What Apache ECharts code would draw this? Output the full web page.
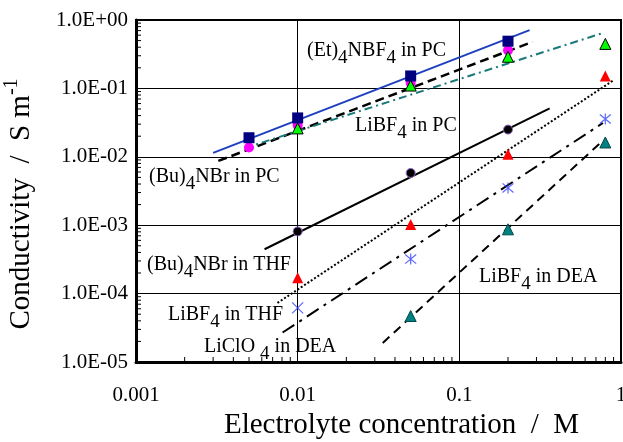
<!DOCTYPE html>
<html><head><meta charset="utf-8">
<script src="https://cdn.jsdelivr.net/npm/echarts@6/dist/echarts.min.js"></script>
<style>html,body{margin:0;padding:0;background:#fff}#c{width:623px;height:442px}</style>
</head><body><div id="c"></div>
<script>
// ---- tick labels ----
const xTickLabels = ['0.001', '0.01', '0.1', '1'];
const yTickLabels = ['1.0E-05', '1.0E-04', '1.0E-03', '1.0E-02', '1.0E-01', '1.0E+00'];
const xMinorTicks = [0.002,0.003,0.004,0.005,0.006,0.007,0.008,0.009,0.02,0.03,0.04,0.05,0.06,0.07,0.08,0.09,0.2,0.3,0.4,0.5,0.6,0.7,0.8,0.9];
const yMinorTicks = [2e-5,3e-5,4e-5,5e-5,6e-5,7e-5,8e-5,9e-5,2e-4,3e-4,4e-4,5e-4,6e-4,7e-4,8e-4,9e-4,2e-3,3e-3,4e-3,5e-3,6e-3,7e-3,8e-3,9e-3,0.02,0.03,0.04,0.05,0.06,0.07,0.08,0.09,0.2,0.3,0.4,0.5,0.6,0.7,0.8,0.9];

// ---- measured points [concentration M, conductivity S/m] ----
const et4nbf4PC = [[0.005,0.019],[0.01,0.037],[0.05,0.152],[0.2,0.49]];
const libf4PC = [[0.005,0.0137],[0.01,0.029],[0.05,0.12],[0.2,0.36]];
const greenTri = [[0.01,0.026],[0.05,0.11],[0.2,0.29],[0.8,0.447]];
const bu4nbrPC = [[0.01,0.00081],[0.05,0.0058],[0.2,0.025]];
const redTri = [[0.01,0.00017],[0.05,0.00102],[0.2,0.0109],[0.8,0.152]];
const blueStar = [[0.01,6.2e-5],[0.05,3.2e-4],[0.2,0.0035],[0.8,0.0357]];
const tealTri = [[0.05,4.7e-5],[0.2,8.7e-4],[0.8,0.0162]];

// ---- fitted lines (end points) ----
const fitEt = [[0.003,0.0114],[0.272,0.71]];
const fitLiPC = [[0.00323,0.0087],[0.284,0.48]];
const fitGreen = [[0.0047,0.0134],[0.773,0.646]];
const fitBuPC = [[0.00624,0.000445],[0.362,0.051]];
const fitRed = [[0.0075,7.3e-5],[0.905,0.133]];
const fitBlue = [[0.00807,2.7e-5],[0.773,0.0312]];
const fitTeal = [[0.0336,1.9e-5],[0.78,0.0176]];

const SERIF = '"Liberation Serif","DejaVu Serif",serif';
const chart = echarts.init(document.getElementById('c'), null, {renderer: 'canvas'});

function lineSeries(name, data, color, width, dash) {
  return {name, type: 'line', data, symbol: 'none', silent: true, z: 2,
    lineStyle: {color, width, type: dash}};
}
function markSeries(name, data, symbol, size, color, border, bw) {
  return {name, type: 'scatter', data, symbol, symbolSize: size, z: 5,
    itemStyle: {color, borderColor: border || color, borderWidth: bw || 0, opacity: 1}};
}
const STAR = 'path://M0,0 L10,10 M10,0 L0,10 M5,-1 L5,11';
const XMARK = 'path://M0,0 L10,10 M10,0 L0,10';

const starData = blueStar.map((p, i) => ({value: p, symbol: i === 0 ? XMARK : STAR}));

function minorTickSeries(data, axis) {
  return {type: 'custom', silent: true, z: 6, clip: false,
    data: data.map(v => [v]),
    renderItem: function (params, api) {
      const v = api.value(0);
      if (axis === 'x') {
        const p = api.coord([v, 1e-5]);
        return {type: 'line', shape: {x1: p[0], y1: p[1] - 1, x2: p[0], y2: p[1] - 5}, style: {stroke: '#000', lineWidth: 1}};
      } else {
        const p = api.coord([0.001, v]);
        return {type: 'line', shape: {x1: p[0] + 1, y1: p[1], x2: p[0] + 5, y2: p[1]}, style: {stroke: '#000', lineWidth: 1}};
      }
    },
    encode: axis === 'x' ? {x: 0} : {y: 0}
  };
}

const richBase = {fontFamily: SERIF, fontSize: 20, color: '#000'};
const labelRich = {
  m: Object.assign({}, richBase),
  s: Object.assign({}, richBase, {fontSize: 19, padding: [14, 0, 0, 0]})
};
function label(text, x, y) {
  return {type: 'text', x, y, z: 10, silent: true,
    style: {text, rich: labelRich, font: '20px ' + SERIF, fill: '#000', verticalAlign: 'middle', align: 'left'}};
}

chart.setOption({
  animation: false,
  backgroundColor: '#fff',
  grid: {left: 136, right: 2, top: 20, bottom: 80, containLabel: false, outerBoundsMode: 'none',
    show: true, borderColor: '#000', borderWidth: 2, backgroundColor: 'transparent'},
  xAxis: {
    type: 'log', logBase: 10, min: 0.001, max: 1, splitNumber: 3,
    name: 'Electrolyte concentration  /  M', nameLocation: 'middle', nameGap: 40,
    nameTextStyle: {fontFamily: SERIF, fontSize: 29, color: '#000', padding: [0, 0, 0, 46]},
    axisLine: {show: true, lineStyle: {color: '#000', width: 3}},
    axisTick: {show: false},
    axisLabel: {fontFamily: SERIF, fontSize: 21, color: '#000', margin: 23,
      formatter: v => xTickLabels[Math.round(Math.log10(v)) + 3]},
    splitLine: {show: true, lineStyle: {color: '#000', width: 1}}
  },
  yAxis: {
    type: 'log', logBase: 10, min: 1e-5, max: 1, splitNumber: 5,
    name: 'Conductivity  /  S m{sup|-1}', nameLocation: 'middle', nameGap: 96, nameRotate: 90,
    nameTextStyle: {fontFamily: SERIF, fontSize: 29, color: '#000', padding: [0, 26, 0, 0],
      rich: {sup: {fontFamily: SERIF, fontSize: 20, color: '#000', padding: [0, 0, 18, 0]}}},
    axisLine: {show: true, lineStyle: {color: '#000', width: 3}},
    axisTick: {show: false},
    axisLabel: {fontFamily: SERIF, fontSize: 21, color: '#000', margin: 8,
      formatter: v => yTickLabels[Math.round(Math.log10(v)) + 5]},
    splitLine: {show: true, lineStyle: {color: '#000', width: 1}}
  },
  series: [
    lineSeries('fitEt', fitEt, '#1f3fbf', 2),
    lineSeries('fitLiPC', fitLiPC, '#000', 2.5, [9, 5]),
    lineSeries('fitGreen', fitGreen, '#1a7a7a', 2, [8, 4, 2, 4]),
    lineSeries('fitBuPC', fitBuPC, '#000', 2),
    lineSeries('fitRed', fitRed, '#000', 2, [2, 2]),
    lineSeries('fitBlue', fitBlue, '#000', 2, [14, 6, 3, 6]),
    lineSeries('fitTeal', fitTeal, '#000', 2, [9, 6]),
    markSeries('LiBF4 in PC', libf4PC, 'circle', 10, '#ff00ff'),
    markSeries('green', greenTri, 'triangle', 11, '#00ff00', '#000', 1),
    markSeries('(Et)4NBF4 in PC', et4nbf4PC, 'rect', 11, '#000080'),
    markSeries('(Bu)4NBr', bu4nbrPC, 'circle', 9, '#000', '#9966cc', 1),
    markSeries('red', redTri, 'triangle', 11, '#ff0000'),
    {name: 'blue', type: 'scatter', data: starData, symbolSize: 11, z: 5,
      itemStyle: {color: 'none', borderColor: '#3344ff', borderWidth: 1.2}},
    markSeries('LiBF4 in DEA', tealTri, 'triangle', 11, '#008080', '#004848', 1),
    minorTickSeries(xMinorTicks, 'x'),
    minorTickSeries(yMinorTicks, 'y')
  ],
  graphic: [
    label('(Et){s|4}NBF{s|4} in PC', 307, 51),
    label('LiBF{s|4} in PC', 355, 126),
    label('(Bu){s|4}NBr in PC', 149, 177),
    label('(Bu){s|4}NBr in THF', 147, 265),
    label('LiBF{s|4} in THF', 168, 315),
    label('LiClO {s|4} in DEA', 204, 347),
    label('LiBF{s|4} in DEA', 479, 277)
  ]
});
</script></body></html>
